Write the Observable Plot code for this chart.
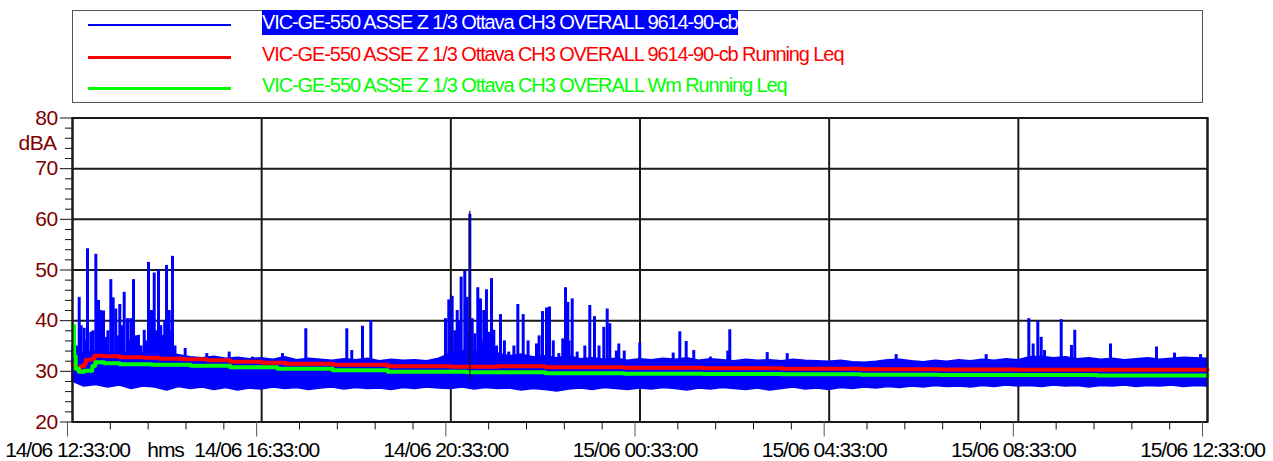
<!DOCTYPE html>
<html>
<head>
<meta charset="utf-8">
<script src="https://cdn.jsdelivr.net/npm/d3@7"></script>
<script src="https://cdn.jsdelivr.net/npm/@observablehq/plot@0.6"></script>
<style>
  html, body { margin: 0; padding: 0; background: #fff; }
  body { width: 1273px; height: 461px; overflow: hidden; font-family: "Liberation Sans", Arial, sans-serif; }
  #legend { position: relative; height: 108px; }
  #legend .box { position: absolute; left: 72px; top: 10px; width: 1131px; height: 93px; border: 1px solid #555; box-sizing: border-box; }
  #legend .sw { position: absolute; left: 88px; width: 143px; }
  #legend .lbl { position: absolute; left: 262px; font-size: 20px; letter-spacing: -1.1px; white-space: nowrap; height: 25px; line-height: 25px; }
  #chart svg { display: block; }
  #chart svg .xlab text { letter-spacing: -1.1px; }
  #chart svg .ylab text { letter-spacing: -0.6px; }
</style>
</head>
<body>
<div id="legend"></div>
<div id="chart"></div>
<script>
// ---------------- data ----------------
const seriesNames = [
  "VIC-GE-550 ASSE Z 1/3 Ottava CH3 OVERALL 9614-90-cb",
  "VIC-GE-550 ASSE Z 1/3 Ottava CH3 OVERALL 9614-90-cb Running Leq",
  "VIC-GE-550 ASSE Z 1/3 Ottava CH3 OVERALL Wm Running Leq"
];
const seriesColors = ["#0000ff", "#ff0000", "#00ff00"];
const startLabel = "2024-06-14T12:33:00Z";
const yTicks = [20, 30, 40, 50, 60, 70, 80];
const yGrid = [30, 40, 50, 60, 70];
const yMinor = [22,24,26,28,32,34,36,38,42,44,46,48,52,54,56,58,62,64,66,68,72,74,76,78];
const xMajorMin = [0, 240, 480, 720, 960, 1200, 1440];
const xMinorMin = [48,96,144,192,288,336,384,432,528,576,624,672,768,816,864,912,1008,1056,1104,1152,1248,1296,1344,1392];

// blue noise band (upper / lower envelope), one value every 15 minutes from start
const envStep = 15;
const blueUpper = [35,33.5,34,33.8,33.5,33.8,33.5,33.6,33.4,33.2,32.8,32.6,32.9,32.5,32.7,32.4,32.6,32.3,32.8,32.2,32.5,32.3,32.1,32.4,32.2,32.5,32.0,32.3,32.1,32.2,32.0,32.5,33.5,34,33.8,34,33.5,33,33.3,32.8,33,32.6,33,32.4,32.6,32.3,32.5,32.1,32.4,32.2,32.5,32.3,32.6,32.1,32.4,32.2,32.0,32.3,32.1,32.2,32.0,32.3,32.1,32.0,31.9,32.1,31.8,31.7,31.9,32.2,32.3,32.0,31.8,32.1,31.9,32.2,32.0,32.3,32.1,32.4,32.2,32.8,32.9,32.6,32.8,32.4,32.6,32.3,32.5,32.2,32.4,32.6,32.3,32.5,32.7,32.6,32.5];
const blueLower = [28,27,27.3,26.8,27.2,26.5,27,26.8,26.2,26.9,26.5,26.8,26.3,26.7,26.2,26.6,26.4,26.8,26.5,26.7,26.3,26.6,26.8,26.4,26.7,26.5,26.6,26.3,26.7,26.5,26.8,26.6,26.5,26.8,26.4,26.7,26.5,26.6,26.2,26.5,26.3,26.0,26.4,26.6,26.3,26.7,26.5,26.3,26.6,26.4,26.7,26.5,26.2,26.6,26.4,26.7,26.5,26.3,26.6,26.2,26.5,26.8,26.4,26.6,26.3,26.7,26.5,26.8,26.6,26.9,26.7,27.0,26.8,27.1,26.9,27.0,26.8,27.1,26.9,27.2,27.0,27.1,26.9,27.2,27.0,27.1,26.8,27.1,27.0,27.2,26.9,27.1,27.0,27.2,26.9,27.1,27.0];

// blue peaks: minutes from start and peak level (dBA)
const spikeMin = [5,8.5,11,14.8,17,19,23.2,26,29.6,33,35.9,37,39.3,42.2,45,48.6,51.6,54.9,57,60,63,65.6,69.8,72,74,77.4,80,83.7,87,91,93,96.4,100.2,103.7,106,109.1,112,114.2,117,119.3,122.7,125,126.9,130,143,170.4,198.8,228.4,266.4,296,348,354.3,367.9,378.5,
  473.2,477.4,481.7,485,488.1,490,493.1,497.7,500.8,502,504.1,507.1,510.4,514.2,517.6,520,521.8,525.2,528.2,531.6,534.5,538,543,548,553.5,560,565,571.8,578,588.7,592,596.3,601.4,605.2,610,617,622,625.5,628.4,630,634,640.3,650,656.3,662.3,668,674.1,678.4,681.7,690,693.1,700,719.7,
  762.1,770.5,778.6,788.2,809.4,831.4,833.9,881.4,906.8,1045,1159.2,1213.3,1218.8,1224.7,1229,1233.2,1254.4,1267.4,1271.6,1316.9,1375.3,1398.1,1431.1];
const spikePeak = [35,44.6,39,38.5,36,54.2,37.7,38,53.1,44,42,37,41.9,36.7,38,48.1,44.5,42.3,37,43.2,39,45.6,40.4,36,40.4,48.1,37,37.1,35,38.1,36,51.5,42,49.4,38,50,39,37.1,40,50.9,42,38,52.7,35,34.5,33.5,33.8,32.8,33.5,38.4,38.4,34.1,38.9,40,
  40.4,44.1,44.8,38,42,40,48.6,49.8,44.6,38,61,40.4,37.4,46.5,44.3,36,42,46.1,37.7,48.3,38.1,35,41.2,36,33.8,35,43.2,41.2,36,35.4,37,41.8,42.5,42.7,36,33.5,36.4,46.5,43.6,36,44.3,33.8,35,43,40.8,35,38.7,42.3,39.4,34,35.4,34,35.6,
  33.6,37.8,35.9,34.1,32.8,34,38.2,33.7,33.5,33.3,33.3,40.4,35.4,39.9,36.7,34.1,40.2,35.1,38.1,35.4,34.8,33.6,33.3];
const maxMarkerMin = 504.1;

// running Leq (red)
const redMin = [0,3,6,10,15,17,25,28,40,60,90,110,140,170,200,240,270,330,400,480,540,600,700,800,900,1000,1100,1200,1300,1440];
const redVal = [31.5,30.6,30.5,31.0,31.5,32.3,32.5,33.1,33.0,32.8,32.7,32.5,32.4,32.2,31.9,31.7,31.5,31.3,31.0,30.9,31.0,30.8,30.7,30.6,30.5,30.4,30.35,30.3,30.3,30.3];
// Wm running Leq (green)
const greenMin = [0,2,4,8,15,25,28,29,40,60,100,150,200,260,330,400,500,600,700,800,900,1000,1100,1200,1300,1440];
const greenVal = [39,33,30.5,29.9,30.1,31.0,31.2,31.8,31.6,31.4,31.3,31.1,30.8,30.5,30.2,29.9,29.8,29.6,29.5,29.45,29.4,29.35,29.3,29.3,29.2,29.2];

// ---------------- build ----------------
const start = new Date(startLabel).getTime();
const T = m => new Date(start + m * 60000);
const env = blueUpper.map((hi, i) => ({t: T(i * envStep), hi, lo: blueLower[i]}));
const spikes = spikeMin.map((m, i) => ({t: T(m), peak: spikePeak[i]}));
const red = redMin.map((m, i) => ({t: T(m), v: redVal[i]}));
const green = greenMin.map((m, i) => ({t: T(m), v: greenVal[i]}));
const xMajor = xMajorMin.map(T);
const xMinor = xMinorMin.map(T);
const fmt = d3.utcFormat("%d/%m %H:%M:%S");

// legend (HTML, above the SVG)
const leg = document.getElementById("legend");
leg.innerHTML = '<div class="box"></div>';
const rowTop = [10, 42, 73];
const swY = [24, 56, 87];
const swH = [2, 3, 2.5];
seriesNames.forEach((name, i) => {
  const sw = document.createElement("div");
  sw.className = "sw";
  sw.style.top = swY[i] + "px";
  sw.style.height = swH[i] + "px";
  sw.style.background = seriesColors[i];
  leg.appendChild(sw);
  const lb = document.createElement("div");
  lb.className = "lbl";
  lb.style.top = rowTop[i] + "px";
  if (i === 0) { lb.style.background = seriesColors[0]; lb.style.color = "#fff"; }
  else lb.style.color = seriesColors[i];
  lb.textContent = name;
  leg.appendChild(lb);
});

const H = 353;
const chart = Plot.plot({
  width: 1273,
  height: H,
  marginLeft: 72,
  marginRight: 66,
  marginTop: 9.5,
  marginBottom: 39.5,
  style: {fontFamily: "'Liberation Sans', Arial, sans-serif", fontSize: "21px", background: "#fff", overflow: "visible"},
  x: {type: "utc", domain: [T(0), T(1440)], label: null},
  y: {domain: [20, 80], label: null},
  marks: [
    Plot.ruleY(yGrid, {stroke: "#1a1a1a", strokeWidth: 2}),
    Plot.ruleX(xMajor, {stroke: "#1a1a1a", strokeWidth: 2}),
    Plot.areaY(env, {x: "t", y1: "lo", y2: "hi", fill: "#0000ff", stroke: "#0000ff", strokeWidth: 1.5}),
    Plot.ruleX(spikes, {x: "t", y1: 31.5, y2: "peak", stroke: "#0000ff", strokeWidth: 3}),
    Plot.line(red, {x: "t", y: "v", stroke: "#ff0000", strokeWidth: 4, curve: "step-after"}),
    Plot.line(green, {x: "t", y: "v", stroke: "#00ff00", strokeWidth: 4, curve: "step-after"}),
    Plot.ruleX([T(maxMarkerMin)], {y1: 28, y2: 61.6, stroke: "#111", strokeWidth: 1.2}),
    Plot.frame({stroke: "#1a1a1a", strokeWidth: 2}),
    // y axis
    Plot.axisY({ticks: yTicks, tickSize: 12, tickPadding: 3, fill: "#800000", stroke: "#111", fontSize: 21, label: null, className: "ylab"}),
    Plot.axisY({ticks: yMinor, tickSize: 7, tickFormat: () => "", stroke: "#111", label: null}),
    Plot.text(["dBA"], {frameAnchor: "top-left", dx: -16, dy: 25.5, textAnchor: "end", lineAnchor: "middle", fill: "#800000", fontSize: 21, className: "ylab"}),
    // x axis
    Plot.axisX({ticks: xMajor, tickSize: 15, tickPadding: 5, tickFormat: fmt, dx: -5, fill: "#000", stroke: "#555", fontSize: 21, label: null, className: "xlab"}),
    Plot.axisX({ticks: xMinor, tickSize: 8, tickFormat: () => "", stroke: "#111", label: null}),
    Plot.text(["hms"], {frameAnchor: "bottom-left", dx: 93, dy: 27.8, textAnchor: "middle", lineAnchor: "middle", fill: "#000", fontSize: 21, className: "xlab"})
  ]
});
document.getElementById("chart").appendChild(chart);
</script>
</body>
</html>
